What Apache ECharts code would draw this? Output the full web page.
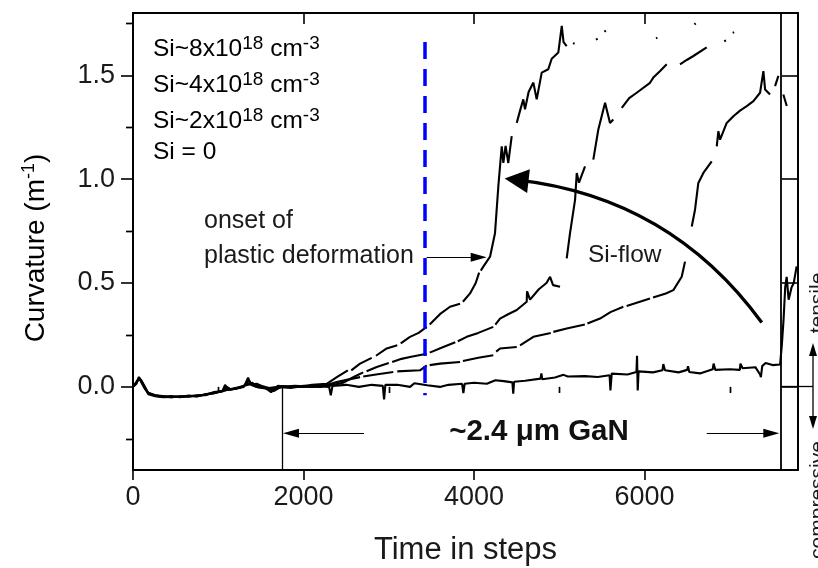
<!DOCTYPE html>
<html><head><meta charset="utf-8">
<script src="https://cdn.jsdelivr.net/npm/echarts@6/dist/echarts.min.js"></script>
<style>html,body{margin:0;padding:0;background:#fff}#c{width:818px;height:568px}</style>
</head><body><div id="c"></div>
<script>
// ---- axis ticks ----
const xTickValues = [0, 2000, 4000, 6000];
const xMinorTickValues = [1000, 3000, 5000, 7000];
const yTickValues = [0, 0.5, 1.0, 1.5];
const yMinorTickValues = [-0.25, 0.25, 0.75, 1.25, 1.75];

// ---- curves: [time step, curvature]; null = gap in the record ----
const siHigh = [ // Si~8x10^18 cm^-3
  [0,0],[40,0.02],[70,0.045],[100,0.03],[140,0.0],[180,-0.03],[260,-0.04],[350,-0.046],[450,-0.044],[550,-0.05],[650,-0.042],[750,-0.045],[850,-0.035],[950,-0.03],[1050,-0.018],[1080,0.01],[1120,-0.015],[1200,-0.008],[1300,0.0],[1350,0.045],[1380,0.012],[1450,0.0],[1550,-0.005],[1620,-0.025],[1700,0.005],[1800,0.0],[1950,0.0],[2100,0.01],[2272,0.015],
  [2400,0.05],[2520,0.08],null,[2560,0.08],[2663,0.112],[2800,0.14],null,[2850,0.15],[2976,0.185],[3100,0.2],null,[3140,0.21],[3249,0.241],[3350,0.26],[3445,0.289],null,[3480,0.3],[3600,0.35],[3718,0.386],[3836,0.40],null,[3870,0.41],[3953,0.45],[4020,0.5],[4060,0.55],null,[4080,0.56],[4109,0.579],[4188,0.627],[4246,0.74],[4285,0.965],[4325,1.158],[4344,1.078],[4370,1.16],[4402,1.078],[4442,1.207],null,
  [4501,1.271],[4540,1.33],[4578,1.384],[4598,1.336],[4640,1.42],[4696,1.465],[4735,1.384],[4794,1.513],[4871,1.529],[4911,1.58],[4989,1.61],[5009,1.674],[5029,1.738],[5050,1.66],[5087,1.64],null,
  [5160,1.655],[5180,1.652],null,[5430,1.672],[5450,1.676],null,[5530,1.71],[5545,1.716],null,[6135,1.678],[6150,1.682],null,[6585,1.745],[6600,1.75]
];
const siMid = [ // Si~4x10^18 cm^-3
  [0,0],[40,0.025],[70,0.04],[100,0.025],[140,-0.005],[180,-0.035],[260,-0.045],[350,-0.05],[450,-0.047],[550,-0.048],[650,-0.045],[750,-0.042],[850,-0.038],[950,-0.03],[1050,-0.02],[1120,-0.012],[1200,-0.01],[1300,0.005],[1360,0.03],[1400,0.008],[1550,0.0],[1650,-0.01],[1750,0.0],[1900,0.005],[2100,0.0],[2300,0.005],
  [2463,0.02],[2600,0.05],[2700,0.07],null,[2740,0.075],[2859,0.096],[3000,0.115],null,[3040,0.12],[3150,0.135],[3249,0.144],[3445,0.160],null,[3480,0.165],[3640,0.192],[3780,0.215],null,[3810,0.22],[3914,0.241],[4050,0.26],[4226,0.289],null,[4250,0.3],[4305,0.329],[4400,0.35],[4501,0.370],[4618,0.41],[4622,0.46],[4657,0.42],[4760,0.47],[4850,0.5],[4892,0.53],[4927,0.49],[5009,0.482],null,
  [5087,0.619],[5126,0.74],[5185,0.90],[5205,1.03],[5231,0.983],[5302,1.062],null,[5399,1.094],[5458,1.239],[5537,1.368],[5595,1.271],[5634,1.287],null,[5733,1.343],[5820,1.39],[5908,1.416],[6064,1.464],[6103,1.489],[6180,1.52],[6260,1.553],null,[6416,1.553],[6500,1.575],[6573,1.593],[6729,1.634],null,[6935,1.664],[6955,1.668],null,[7035,1.704],[7050,1.708]
];
const siLow = [ // Si~2x10^18 cm^-3
  [0,0],[40,0.02],[70,0.042],[100,0.028],[140,-0.002],[180,-0.032],[260,-0.042],[350,-0.048],[450,-0.05],[550,-0.046],[650,-0.044],[750,-0.046],[850,-0.036],[950,-0.028],[1050,-0.022],[1100,0.0],[1150,-0.012],[1250,-0.005],[1320,0.01],[1400,0.02],[1450,0.0],[1550,-0.008],[1700,0.0],[1850,-0.005],[2000,0.005],[2200,0.0],
  [2389,0.023],[2520,0.035],[2663,0.047],null,[2700,0.05],[2850,0.06],[3053,0.072],null,[3100,0.075],[3367,0.080],[3445,0.104],null,[3480,0.105],[3601,0.112],[3836,0.120],null,[3870,0.125],[4050,0.14],[4226,0.152],null,[4260,0.17],[4305,0.185],[4501,0.192],null,[4540,0.2],[4696,0.241],[4900,0.26],null,[4930,0.265],[5087,0.281],[5300,0.3],null,[5330,0.305],[5478,0.329],[5600,0.36],[5751,0.386],null,[5790,0.39],[6064,0.426],null,[6100,0.43],[6250,0.45],[6338,0.466],[6436,0.53],[6475,0.603],null,
  [6554,0.772],[6592,0.853],[6631,0.982],[6690,1.03],[6788,1.086],null,[6847,1.158],[6866,1.231],[6886,1.19],[6964,1.271],[7042,1.303],[7120,1.33],[7199,1.352],[7277,1.376],[7355,1.416],[7394,1.52],[7414,1.432],[7472,1.408],null,[7531,1.448],[7570,1.497],null,[7628,1.408],[7668,1.352]
];
const siZero = [ // Si = 0
  [0,0],[40,0.015],[70,0.048],[100,0.02],[140,-0.01],[180,-0.028],[260,-0.04],[350,-0.044],[450,-0.05],[550,-0.045],[650,-0.047],[750,-0.04],[850,-0.04],[950,-0.025],[1050,-0.02],[1150,-0.01],[1250,0.0],[1350,0.01],[1450,0.015],[1550,-0.003],[1650,-0.02],[1750,0.004],[1850,0.0],[2000,0.0],[2150,0.005],[2300,0.0],[2320,-0.04],[2340,0.005],[2500,0.01],[2650,0.0],[2800,0.01],[2930,0.005],[2945,-0.06],[2960,0.01],[3100,0.01],[3250,0.0],[3300,0.018],[3450,0.008],[3600,0.0],[3700,0.01],[3860,0.015],[3875,-0.03],[3890,0.015],[4000,0.02],[4150,0.015],[4250,0.032],[4350,0.028],[4450,0.022],[4460,-0.033],[4470,0.025],[4600,0.03],[4780,0.04],[4790,0.065],[4800,0.037],[4950,0.045],[5050,0.058],[5100,0.05],[5300,0.052],[5450,0.048],[5590,0.056],[5600,-0.017],[5615,0.064],[5800,0.06],[5905,0.072],[5912,0.15],[5920,-0.017],[5930,0.075],[6100,0.07],[6210,0.08],[6220,0.11],[6240,0.08],[6400,0.07],[6500,0.082],[6510,0.1],[6525,0.072],[6650,0.065],[6800,0.085],[6810,0.112],[6830,0.082],[7000,0.085],[7118,0.082],[7125,0.112],[7150,0.09],[7300,0.095],[7355,0.06],[7365,0.047],[7380,0.1],[7420,0.115],[7500,0.105],[7590,0.108],
  [7610,0.2],[7630,0.32],[7650,0.48],[7667,0.53],[7690,0.42],[7725,0.48],[7750,0.5],[7784,0.58]
];

// ---- annotation anchors (data coordinates) ----
const onsetLineX = 3425;
const gaNStart = 1750, gaNEnd = 7600;
const siFlowFrom = [7375, 0.31], siFlowTo = [4499, 0.997];

const FONT = 'Liberation Sans';
const TXT = '#1a1a1a';
const chart = echarts.init(document.getElementById('c'), null, {renderer: 'canvas'});

const arrowHead = 'path://M5,0L10,20L0,20Z';
function lineSeries(name, data) {
  return {name, type: 'line', data, xAxisIndex: 0, yAxisIndex: 0, showSymbol: false, symbol: 'none',
    connectNulls: false, lineStyle: {color: '#000', width: 2.1}, silent: true, z: 3};
}
const baseAxis = {type: 'value', splitLine: {show: false}, axisLine: {show: false}, axisLabel: {show: false}};

const zeroSeries = lineSeries('Si = 0', siZero);
zeroSeries.markLine = {
  silent: true, animation: false, symbol: ['none', 'none'], label: {show: false},
  data: [
    [{coord: [onsetLineX, 1.66], lineStyle: {color: '#0000ff', width: 3.5, type: [17, 10]}}, {coord: [onsetLineX, -0.04]}],
    [{coord: [gaNStart, 0], lineStyle: {color: '#000', width: 1.3, type: 'solid'}}, {coord: [gaNStart, -0.4]}],
    [{coord: [gaNEnd, -0.4], lineStyle: {color: '#000', width: 1.8, type: 'solid'}}, {coord: [gaNEnd, 1.8]}],
    [{coord: [3445, 0.624], lineStyle: {color: '#000', width: 1.2, type: 'solid'}},
     {coord: [4055, 0.624], symbol: arrowHead, symbolSize: [9, 16]}],
    [{coord: [2710, -0.223], lineStyle: {color: '#000', width: 1.2, type: 'solid'}},
     {coord: [1853, -0.223], symbol: arrowHead, symbolSize: [9, 16]}],
    [{coord: [6730, -0.223], lineStyle: {color: '#000', width: 1.2, type: 'solid'}},
     {coord: [7487, -0.223], symbol: arrowHead, symbolSize: [9, 16]}]
  ]
};

const siFlowArrow = {
  type: 'lines', coordinateSystem: 'cartesian2d', xAxisIndex: 0, yAxisIndex: 0, silent: true, z: 4,
  symbol: ['none', 'path://M6,0L12,24L0,24Z'], symbolSize: 24, symbolKeepAspect: true,
  lineStyle: {color: '#000', width: 3.3, curveness: -0.22, opacity: 1},
  data: [{coords: [siFlowFrom, siFlowTo]}]
};

const sup = {fontSize: 19, fontFamily: FONT, color: TXT, verticalAlign: 'top', lineHeight: 30};
const nrm = {fontSize: 24.5, fontFamily: FONT, color: TXT, lineHeight: 30};
function legendText(t, yCenter) {
  return {type: 'text', left: 153, top: yCenter - 14, silent: true,
    style: {text: t, rich: {n: nrm, s: sup}, font: '24.5px ' + FONT}};
}

chart.setOption({
  animation: false,
  backgroundColor: '#fff',
  grid: {left: 133, right: 20, top: 13, bottom: 98, containLabel: false, outerBoundsMode: 'none'},
  xAxis: [
    {type: 'value', position: 'bottom', min: 0, max: 7800,
      name: 'Time in steps', nameLocation: 'middle', nameGap: 65,
      nameTextStyle: {fontFamily: FONT, fontSize: 31, color: TXT},
      axisLine: {show: true, onZero: false, lineStyle: {color: '#000', width: 2}},
      axisTick: {show: true, inside: false, length: 10, customValues: xTickValues, lineStyle: {color: '#000', width: 1.6}},
      axisLabel: {show: true, customValues: xTickValues, margin: 14, fontFamily: FONT, fontSize: 27, color: TXT,
        formatter: v => String(v)},
      splitLine: {show: false}},
    Object.assign({}, baseAxis, {position: 'bottom', min: 0, max: 7800,
      axisTick: {show: true, inside: false, length: 6, customValues: xMinorTickValues, lineStyle: {color: '#000', width: 1.4}}}),
    {type: 'value', position: 'top', min: 0, max: 7800,
      axisLine: {show: true, onZero: false, lineStyle: {color: '#000', width: 2}},
      axisTick: {show: true, inside: true, length: 11, customValues: xTickValues, lineStyle: {color: '#000', width: 1.6}},
      axisLabel: {show: false}, splitLine: {show: false}},
    Object.assign({}, baseAxis, {position: 'top', min: 0, max: 7800,
      axisTick: {show: true, inside: true, length: 6, customValues: xMinorTickValues, lineStyle: {color: '#000', width: 1.4}}})
  ],
  yAxis: [
    {type: 'value', position: 'left', min: -0.4, max: 1.8,
      axisLine: {show: true, onZero: false, lineStyle: {color: '#000', width: 2}},
      axisTick: {show: true, inside: false, length: 12, customValues: yTickValues, lineStyle: {color: '#000', width: 1.6}},
      axisLabel: {show: true, customValues: yTickValues, margin: 18, fontFamily: FONT, fontSize: 27, color: TXT,
        formatter: v => v.toFixed(1)},
      splitLine: {show: false}},
    Object.assign({}, baseAxis, {position: 'left', min: -0.4, max: 1.8,
      axisTick: {show: true, inside: false, length: 7, customValues: yMinorTickValues, lineStyle: {color: '#000', width: 1.4}}}),
    {type: 'value', position: 'right', min: -0.4, max: 1.8,
      axisLine: {show: true, onZero: false, lineStyle: {color: '#000', width: 2}},
      axisTick: {show: true, inside: true, length: 16, customValues: yTickValues, lineStyle: {color: '#000', width: 1.6}},
      axisLabel: {show: false}, splitLine: {show: false}},
    Object.assign({}, baseAxis, {position: 'right', min: -0.4, max: 1.8,
      axisTick: {show: true, inside: true, length: 7, customValues: yMinorTickValues, lineStyle: {color: '#000', width: 1.4}}})
  ],
  series: [
    lineSeries('Si~8x10^18 cm^-3', siHigh),
    lineSeries('Si~4x10^18 cm^-3', siMid),
    lineSeries('Si~2x10^18 cm^-3', siLow),
    zeroSeries,
    siFlowArrow
  ],
  graphic: [
    legendText('{n|Si~8x10}{s|18}{n| cm}{s|-3}', 48),
    legendText('{n|Si~4x10}{s|18}{n| cm}{s|-3}', 84),
    legendText('{n|Si~2x10}{s|18}{n| cm}{s|-3}', 120),
    legendText('{n|Si = 0}', 154),
    {type: 'text', x: 36, y: 248, rotation: Math.PI / 2, silent: true,
      style: {text: '{n|Curvature (m}{s|-1}{n|)}', align: 'center', verticalAlign: 'middle',
        rich: {n: {fontSize: 28, fontFamily: FONT, color: TXT, lineHeight: 32},
               s: {fontSize: 18, fontFamily: FONT, color: TXT, verticalAlign: 'top', lineHeight: 32}}}},
    {type: 'text', left: 204, top: 204, silent: true,
      style: {text: 'onset of\nplastic deformation', font: '25px ' + FONT, fill: TXT, lineHeight: 35}},
    {type: 'text', left: 588, top: 243, silent: true,
      style: {text: 'Si-flow', font: '24.5px ' + FONT, fill: TXT}},
    {type: 'text', x: 539, y: 432, silent: true,
      style: {text: '~2.4 \u03bcm GaN', font: 'bold 29.5px ' + FONT, fill: '#111', align: 'center', verticalAlign: 'middle'}},
    {type: 'line', silent: true, shape: {x1: 781, y1: 386.5, x2: 813, y2: 386.5}, style: {stroke: '#000', lineWidth: 1.3}},
    {type: 'line', silent: true, shape: {x1: 813, y1: 352, x2: 813, y2: 420}, style: {stroke: '#000', lineWidth: 1.3}},
    {type: 'polygon', silent: true, shape: {points: [[813, 343], [809, 356], [817, 356]]}, style: {fill: '#000'}},
    {type: 'polygon', silent: true, shape: {points: [[813, 429], [809, 416], [817, 416]]}, style: {fill: '#000'}},
    {type: 'text', x: 808, y: 303, rotation: Math.PI / 2, silent: true,
      style: {text: 'tensile', font: '21px ' + FONT, fill: TXT, align: 'center', verticalAlign: 'top'}},
    {type: 'text', x: 808, y: 500, rotation: Math.PI / 2, silent: true,
      style: {text: 'compressive', font: '21px ' + FONT, fill: TXT, align: 'center', verticalAlign: 'top'}}
  ]
});
</script></body></html>
